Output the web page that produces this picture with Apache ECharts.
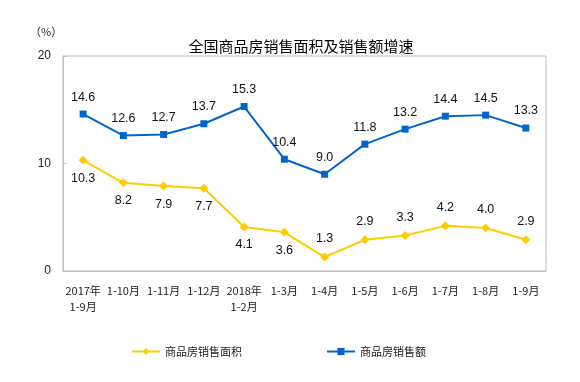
<!DOCTYPE html>
<html><head><meta charset="utf-8">
<script src="https://cdn.jsdelivr.net/npm/echarts@6/dist/echarts.min.js"></script>
<style>html,body{margin:0;padding:0;background:#fff}#c{width:580px;height:382px}</style>
</head><body><div id="c"></div>
<script>
const categories = ['2017年\n1-9月','1-10月','1-11月','1-12月','2018年\n1-2月','1-3月','1-4月','1-5月','1-6月','1-7月','1-8月','1-9月'];
const areaGrowth = [10.3, 8.2, 7.9, 7.7, 4.1, 3.6, 1.3, 2.9, 3.3, 4.2, 4.0, 2.9];
const salesGrowth = [14.6, 12.6, 12.7, 13.7, 15.3, 10.4, 9.0, 11.8, 13.2, 14.4, 14.5, 13.3];
const areaLabelPos = ['bottom','bottom','bottom','bottom','bottom','bottom','top','top','top','top','top','top'];
const yTicks = [0, 10, 20];

const chart = echarts.init(document.getElementById('c'));
const font = '"Noto Sans CJK SC", sans-serif';
const numFont = 'Liberation Sans, Arial, sans-serif';
chart.setOption({
  animation: false,
  title: {
    text: '全国商品房销售面积及销售额增速',
    left: 296, top: 34, textAlign: 'center',
    textStyle: {fontSize: 15, fontWeight: 'normal', color: '#000', fontFamily: font}
  },
  graphic: [{type: 'text', left: 30, top: 26, style: {text: '（%）', fontSize: 11, fill: '#222', fontFamily: font}}],
  legend: {
    bottom: 20, left: 126, itemGap: 84, itemWidth: 28, itemHeight: 9,
    textStyle: {fontSize: 11, color: '#222', fontFamily: font},
    data: ['商品房销售面积', '商品房销售额']
  },
  grid: {left: 63, right: 34, top: 56, bottom: 111, show: true, borderColor: '#BFBFBF', borderWidth: 1},
  xAxis: {
    type: 'category', data: categories, boundaryGap: true,
    axisLine: {lineStyle: {color: '#BFBFBF'}},
    axisTick: {inside: true, length: 4, lineStyle: {color: '#BFBFBF'}},
    axisLabel: {color: '#222', fontSize: 11, fontFamily: font, margin: 12, lineHeight: 16, interval: 0}
  },
  yAxis: {
    type: 'value', min: yTicks[0], max: yTicks[2], interval: 10,
    axisLine: {show: true, lineStyle: {color: '#BFBFBF'}},
    axisTick: {show: true, inside: true, length: 4, lineStyle: {color: '#BFBFBF'}},
    splitLine: {show: false},
    axisLabel: {color: '#222', fontSize: 12, fontFamily: numFont, margin: 12}
  },
  series: [
    {
      name: '商品房销售面积', type: 'line', data: areaGrowth.map((v, i) => ({value: v, label: {position: areaLabelPos[i]}})),
      symbol: 'diamond', symbolSize: 9,
      lineStyle: {color: '#FFCC00', width: 2}, itemStyle: {color: '#FFCC00'},
      label: {show: true, distance: 7, color: '#111', fontSize: 12.5, fontFamily: numFont, formatter: p => p.value.toFixed(1)}
    },
    {
      name: '商品房销售额', type: 'line', data: salesGrowth,
      symbol: 'rect', symbolSize: 7,
      lineStyle: {color: '#0066CC', width: 2}, itemStyle: {color: '#0066CC'},
      label: {show: true, position: 'top', distance: 7, color: '#111', fontSize: 12.5, fontFamily: numFont, formatter: p => p.value.toFixed(1)}
    }
  ]
});
</script></body></html>
